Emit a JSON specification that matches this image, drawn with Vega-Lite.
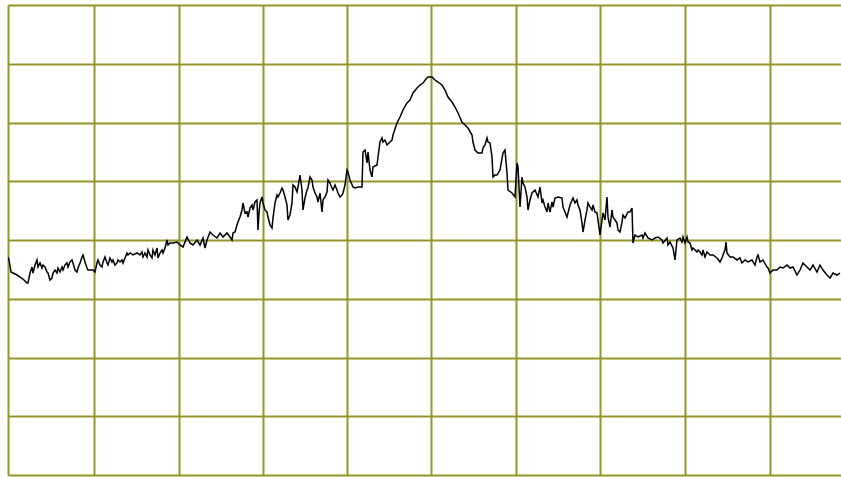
{
  "$schema": "https://vega.github.io/schema/vega-lite/v6.json",
  "width": 833,
  "height": 470,
  "autosize": {"type": "none"},
  "padding": {"left": 8, "top": 5, "right": 0, "bottom": 2},
  "background": "white",
  "config": {"view": {"stroke": null}},
  "data": {"values": [
    {"pt":0,"dB":-42.89},{"pt":1,"dB":-43.40},{"pt":3,"dB":-45.45},{"pt":5,"dB":-45.62},{"pt":9,"dB":-45.96},{"pt":12,"dB":-46.30},{"pt":15,"dB":-46.64},{"pt":19,"dB":-47.32},{"pt":20,"dB":-47.32},{"pt":22,"dB":-45.62},
    {"pt":24,"dB":-44.60},{"pt":25,"dB":-45.62},{"pt":27,"dB":-44.26},{"pt":29,"dB":-43.40},{"pt":30,"dB":-44.60},{"pt":32,"dB":-43.91},{"pt":34,"dB":-44.77},{"pt":35,"dB":-44.26},{"pt":37,"dB":-44.60},{"pt":39,"dB":-45.45},
    {"pt":40,"dB":-45.62},{"pt":42,"dB":-46.81},{"pt":44,"dB":-46.47},{"pt":45,"dB":-45.62},{"pt":47,"dB":-45.11},{"pt":49,"dB":-45.62},{"pt":50,"dB":-44.77},{"pt":52,"dB":-45.45},{"pt":54,"dB":-44.60},{"pt":55,"dB":-45.11},
    {"pt":57,"dB":-44.26},{"pt":59,"dB":-43.91},{"pt":60,"dB":-44.60},{"pt":62,"dB":-43.74},{"pt":64,"dB":-43.40},{"pt":65,"dB":-43.91},{"pt":67,"dB":-45.11},{"pt":69,"dB":-45.45},{"pt":70,"dB":-44.77},{"pt":72,"dB":-43.91},
    {"pt":74,"dB":-42.89},{"pt":75,"dB":-42.55},{"pt":77,"dB":-43.74},{"pt":79,"dB":-44.77},{"pt":80,"dB":-45.11},{"pt":82,"dB":-45.11},{"pt":85,"dB":-45.11},{"pt":87,"dB":-45.45},{"pt":89,"dB":-43.91},{"pt":90,"dB":-43.40},
    {"pt":92,"dB":-44.26},{"pt":94,"dB":-44.60},{"pt":95,"dB":-43.74},{"pt":97,"dB":-42.89},{"pt":99,"dB":-43.91},{"pt":100,"dB":-44.26},{"pt":102,"dB":-43.06},{"pt":104,"dB":-43.74},{"pt":105,"dB":-43.40},{"pt":107,"dB":-44.26},
    {"pt":109,"dB":-43.91},{"pt":110,"dB":-43.40},{"pt":112,"dB":-43.74},{"pt":114,"dB":-43.40},{"pt":115,"dB":-43.91},{"pt":117,"dB":-43.06},{"pt":119,"dB":-42.21},{"pt":120,"dB":-42.55},{"pt":122,"dB":-42.21},{"pt":125,"dB":-42.55},
    {"pt":129,"dB":-42.21},{"pt":132,"dB":-42.55},{"pt":134,"dB":-42.04},{"pt":135,"dB":-42.89},{"pt":137,"dB":-42.21},{"pt":139,"dB":-42.89},{"pt":140,"dB":-41.70},{"pt":142,"dB":-42.55},{"pt":144,"dB":-43.06},{"pt":145,"dB":-41.70},
    {"pt":147,"dB":-42.55},{"pt":149,"dB":-41.36},{"pt":150,"dB":-43.06},{"pt":152,"dB":-42.21},{"pt":154,"dB":-41.70},{"pt":155,"dB":-42.21},{"pt":157,"dB":-41.36},{"pt":159,"dB":-40.00},{"pt":160,"dB":-40.85},{"pt":162,"dB":-40.51},
    {"pt":165,"dB":-40.51},{"pt":169,"dB":-40.34},{"pt":172,"dB":-40.85},{"pt":175,"dB":-41.19},{"pt":179,"dB":-39.49},{"pt":182,"dB":-40.51},{"pt":185,"dB":-40.85},{"pt":189,"dB":-40.00},{"pt":192,"dB":-40.85},{"pt":195,"dB":-39.66},
    {"pt":197,"dB":-41.36},{"pt":199,"dB":-40.00},{"pt":202,"dB":-38.64},{"pt":205,"dB":-39.15},{"pt":209,"dB":-39.66},{"pt":212,"dB":-38.81},{"pt":215,"dB":-39.49},{"pt":219,"dB":-38.81},{"pt":222,"dB":-39.49},{"pt":224,"dB":-40.00},
    {"pt":225,"dB":-38.81},{"pt":227,"dB":-38.64},{"pt":229,"dB":-37.45},{"pt":230,"dB":-36.94},{"pt":232,"dB":-36.09},{"pt":234,"dB":-34.89},{"pt":235,"dB":-33.70},{"pt":237,"dB":-35.40},{"pt":239,"dB":-35.23},{"pt":240,"dB":-36.09},
    {"pt":242,"dB":-34.55},{"pt":244,"dB":-34.04},{"pt":245,"dB":-34.89},{"pt":247,"dB":-33.53},{"pt":249,"dB":-33.19},{"pt":250,"dB":-38.30},{"pt":251,"dB":-35.40},{"pt":252,"dB":-33.70},{"pt":254,"dB":-32.68},{"pt":255,"dB":-33.70},
    {"pt":257,"dB":-34.89},{"pt":259,"dB":-35.23},{"pt":260,"dB":-36.09},{"pt":262,"dB":-37.45},{"pt":264,"dB":-37.96},{"pt":265,"dB":-36.26},{"pt":267,"dB":-33.70},{"pt":269,"dB":-32.34},{"pt":270,"dB":-32.68},{"pt":272,"dB":-32.00},
    {"pt":274,"dB":-31.15},{"pt":275,"dB":-31.49},{"pt":277,"dB":-32.68},{"pt":279,"dB":-34.04},{"pt":280,"dB":-36.60},{"pt":282,"dB":-35.74},{"pt":284,"dB":-33.70},{"pt":285,"dB":-30.64},{"pt":287,"dB":-30.98},{"pt":289,"dB":-31.83},
    {"pt":290,"dB":-30.98},{"pt":292,"dB":-28.94},{"pt":294,"dB":-31.49},{"pt":295,"dB":-34.89},{"pt":297,"dB":-32.85},{"pt":299,"dB":-31.49},{"pt":300,"dB":-31.15},{"pt":302,"dB":-29.28},{"pt":304,"dB":-29.79},{"pt":305,"dB":-30.98},
    {"pt":307,"dB":-32.00},{"pt":309,"dB":-32.68},{"pt":310,"dB":-33.53},{"pt":312,"dB":-32.00},{"pt":314,"dB":-35.23},{"pt":315,"dB":-33.19},{"pt":317,"dB":-32.68},{"pt":319,"dB":-31.83},{"pt":320,"dB":-29.79},{"pt":322,"dB":-30.30},
    {"pt":324,"dB":-31.15},{"pt":325,"dB":-31.49},{"pt":327,"dB":-30.64},{"pt":329,"dB":-31.49},{"pt":330,"dB":-32.00},{"pt":332,"dB":-32.68},{"pt":334,"dB":-32.34},{"pt":335,"dB":-32.00},{"pt":337,"dB":-30.64},{"pt":339,"dB":-28.09},
    {"pt":340,"dB":-28.43},{"pt":342,"dB":-29.79},{"pt":345,"dB":-30.98},{"pt":347,"dB":-31.15},{"pt":350,"dB":-30.98},{"pt":354,"dB":-30.98},{"pt":355,"dB":-25.02},{"pt":357,"dB":-24.68},{"pt":359,"dB":-26.89},{"pt":360,"dB":-25.02},
    {"pt":362,"dB":-28.09},{"pt":364,"dB":-29.28},{"pt":365,"dB":-27.57},{"pt":369,"dB":-27.23},{"pt":370,"dB":-25.87},{"pt":372,"dB":-23.32},{"pt":374,"dB":-22.64},{"pt":375,"dB":-23.32},{"pt":377,"dB":-22.98},{"pt":379,"dB":-23.83},
    {"pt":382,"dB":-23.32},{"pt":384,"dB":-22.98},{"pt":385,"dB":-22.13},{"pt":389,"dB":-20.09},{"pt":392,"dB":-19.06},{"pt":395,"dB":-17.87},{"pt":399,"dB":-16.68},{"pt":402,"dB":-16.17},{"pt":405,"dB":-14.98},{"pt":409,"dB":-14.13},
    {"pt":412,"dB":-13.62},{"pt":415,"dB":-13.28},{"pt":418,"dB":-12.60},{"pt":420,"dB":-12.26},{"pt":424,"dB":-12.26},{"pt":427,"dB":-12.77},{"pt":430,"dB":-13.11},{"pt":434,"dB":-13.62},{"pt":437,"dB":-14.47},{"pt":440,"dB":-15.66},
    {"pt":444,"dB":-16.51},{"pt":447,"dB":-17.36},{"pt":450,"dB":-18.38},{"pt":454,"dB":-19.91},{"pt":457,"dB":-20.43},{"pt":460,"dB":-20.94},{"pt":464,"dB":-22.13},{"pt":465,"dB":-23.32},{"pt":467,"dB":-24.68},{"pt":470,"dB":-25.19},
    {"pt":474,"dB":-25.19},{"pt":475,"dB":-24.34},{"pt":477,"dB":-23.83},{"pt":479,"dB":-22.64},{"pt":480,"dB":-23.32},{"pt":482,"dB":-23.49},{"pt":484,"dB":-25.87},{"pt":485,"dB":-29.28},{"pt":487,"dB":-28.94},{"pt":489,"dB":-28.94},
    {"pt":492,"dB":-28.09},{"pt":495,"dB":-25.19},{"pt":497,"dB":-24.68},{"pt":499,"dB":-28.60},{"pt":500,"dB":-31.49},{"pt":504,"dB":-32.00},{"pt":507,"dB":-32.68},{"pt":509,"dB":-26.89},{"pt":510,"dB":-27.57},{"pt":512,"dB":-34.38},
    {"pt":514,"dB":-29.28},{"pt":515,"dB":-30.30},{"pt":517,"dB":-30.98},{"pt":519,"dB":-32.68},{"pt":520,"dB":-34.89},{"pt":522,"dB":-33.19},{"pt":524,"dB":-32.00},{"pt":527,"dB":-31.49},{"pt":530,"dB":-32.68},{"pt":532,"dB":-30.98},
    {"pt":534,"dB":-33.70},{"pt":535,"dB":-33.19},{"pt":537,"dB":-34.38},{"pt":539,"dB":-35.23},{"pt":540,"dB":-33.70},{"pt":542,"dB":-35.23},{"pt":544,"dB":-33.53},{"pt":545,"dB":-34.38},{"pt":547,"dB":-32.85},{"pt":550,"dB":-32.68},
    {"pt":554,"dB":-32.85},{"pt":555,"dB":-34.38},{"pt":559,"dB":-36.09},{"pt":562,"dB":-34.04},{"pt":565,"dB":-32.85},{"pt":567,"dB":-33.70},{"pt":569,"dB":-33.19},{"pt":570,"dB":-34.04},{"pt":572,"dB":-34.89},{"pt":574,"dB":-37.11},
    {"pt":575,"dB":-38.64},{"pt":577,"dB":-36.60},{"pt":579,"dB":-34.89},{"pt":580,"dB":-33.70},{"pt":582,"dB":-34.38},{"pt":584,"dB":-34.89},{"pt":585,"dB":-34.04},{"pt":587,"dB":-35.23},{"pt":589,"dB":-35.40},{"pt":590,"dB":-36.60},
    {"pt":592,"dB":-39.15},{"pt":594,"dB":-36.60},{"pt":595,"dB":-35.40},{"pt":597,"dB":-36.60},{"pt":599,"dB":-32.68},{"pt":600,"dB":-36.09},{"pt":602,"dB":-37.79},{"pt":604,"dB":-34.89},{"pt":605,"dB":-36.09},{"pt":607,"dB":-36.60},
    {"pt":609,"dB":-37.11},{"pt":610,"dB":-38.30},{"pt":612,"dB":-38.64},{"pt":614,"dB":-36.94},{"pt":615,"dB":-35.74},{"pt":617,"dB":-36.26},{"pt":620,"dB":-35.23},{"pt":622,"dB":-35.23},{"pt":624,"dB":-34.55},{"pt":625,"dB":-40.51},
    {"pt":627,"dB":-39.15},{"pt":630,"dB":-39.49},{"pt":634,"dB":-39.15},{"pt":635,"dB":-39.66},{"pt":637,"dB":-38.81},{"pt":640,"dB":-39.66},{"pt":644,"dB":-40.00},{"pt":647,"dB":-39.66},{"pt":650,"dB":-39.49},{"pt":654,"dB":-40.00},
    {"pt":655,"dB":-40.51},{"pt":659,"dB":-39.66},{"pt":660,"dB":-40.85},{"pt":662,"dB":-40.34},{"pt":665,"dB":-41.36},{"pt":667,"dB":-43.40},{"pt":669,"dB":-40.00},{"pt":672,"dB":-39.66},{"pt":674,"dB":-40.34},{"pt":675,"dB":-39.49},
    {"pt":677,"dB":-40.51},{"pt":679,"dB":-39.49},{"pt":680,"dB":-40.34},{"pt":682,"dB":-40.51},{"pt":684,"dB":-41.70},{"pt":685,"dB":-41.36},{"pt":689,"dB":-42.04},{"pt":690,"dB":-41.70},{"pt":692,"dB":-42.04},{"pt":694,"dB":-42.55},
    {"pt":695,"dB":-41.70},{"pt":697,"dB":-42.89},{"pt":699,"dB":-42.04},{"pt":702,"dB":-42.55},{"pt":705,"dB":-42.55},{"pt":709,"dB":-43.06},{"pt":712,"dB":-43.74},{"pt":714,"dB":-43.06},{"pt":715,"dB":-42.55},{"pt":717,"dB":-41.70},
    {"pt":718,"dB":-40.34},{"pt":719,"dB":-42.21},{"pt":722,"dB":-42.89},{"pt":725,"dB":-42.89},{"pt":729,"dB":-43.40},{"pt":732,"dB":-43.06},{"pt":734,"dB":-43.91},{"pt":737,"dB":-43.40},{"pt":740,"dB":-43.74},{"pt":744,"dB":-43.40},
    {"pt":747,"dB":-44.26},{"pt":749,"dB":-42.89},{"pt":750,"dB":-42.55},{"pt":752,"dB":-43.74},{"pt":755,"dB":-43.40},{"pt":759,"dB":-44.60},{"pt":760,"dB":-44.77},{"pt":762,"dB":-45.62},{"pt":765,"dB":-45.11},{"pt":769,"dB":-45.11},
    {"pt":772,"dB":-44.60},{"pt":775,"dB":-44.77},{"pt":779,"dB":-44.26},{"pt":782,"dB":-44.77},{"pt":785,"dB":-44.60},{"pt":789,"dB":-45.96},{"pt":792,"dB":-45.11},{"pt":795,"dB":-43.91},{"pt":799,"dB":-44.60},{"pt":802,"dB":-45.11},
    {"pt":805,"dB":-44.26},{"pt":809,"dB":-45.45},{"pt":812,"dB":-44.26},{"pt":815,"dB":-45.11},{"pt":819,"dB":-45.96},{"pt":822,"dB":-46.47},{"pt":825,"dB":-45.62},{"pt":829,"dB":-45.96},{"pt":832,"dB":-45.62}
  ]},
  "mark": {"type": "line", "color": "#000000", "strokeWidth": 1.5, "clip": true, "interpolate": "linear"},
  "encoding": {
    "x": {
      "field": "pt", "type": "quantitative",
      "scale": {"domain": [0, 833], "nice": false, "zero": false},
      "axis": {"values": [0, 86, 171, 255, 339, 423, 508, 592, 677, 762], "grid": true, "gridColor": "#969628", "gridWidth": 2, "gridOpacity": 1, "labels": false, "ticks": false, "domain": false, "title": null}
    },
    "y": {
      "field": "dB", "type": "quantitative",
      "scale": {"domain": [-80, 0], "nice": false, "zero": false},
      "axis": {"values": [-80, -70, -60, -50, -40, -30, -20, -10, 0], "grid": true, "gridColor": "#969628", "gridWidth": 2, "gridOpacity": 1, "labels": false, "ticks": false, "domain": false, "title": null}
    }
  }
}
